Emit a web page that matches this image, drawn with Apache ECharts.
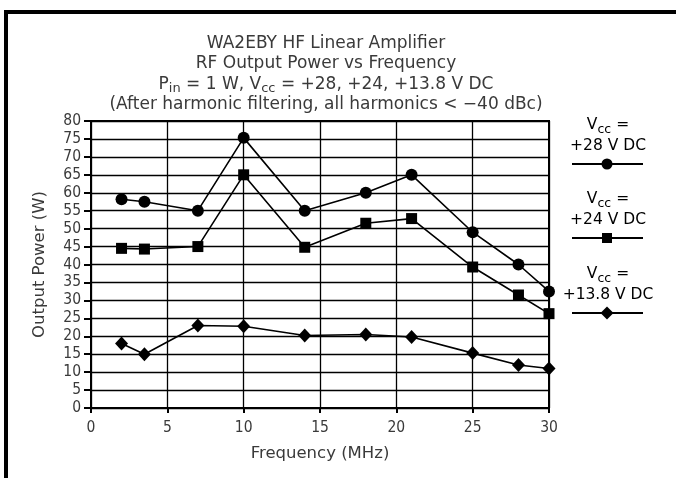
<!DOCTYPE html>
<html>
<head>
<meta charset="utf-8">
<script src="https://cdn.jsdelivr.net/npm/echarts@6/dist/echarts.min.js"></script>
<style>
  html, body { margin: 0; padding: 0; background: #fff; }
  #chart { width: 676px; height: 478px; }
</style>
</head>
<body>
<div id="chart"></div>
<script>
// frequency (MHz)
const freqs = [2, 3.5, 7, 10, 14, 18, 21, 25, 28, 30]
// output power (W) per supply voltage
const vcc28 = [58.2, 57.5, 55, 75.3, 55, 60, 65, 49, 40, 32.5]
const vcc24 = [44.5, 44.3, 45, 65, 44.8, 51.5, 52.8, 39.3, 31.5, 26.3]
const vcc138 = [18, 15, 23, 22.8, 20.2, 20.5, 19.8, 15.3, 12, 11]
const seriesNames = ['+28 V DC', '+24 V DC', '+13.8 V DC']

const font = 'DejaVu Sans'
const tickFont = 'DejaVu Sans Condensed'
const txt = '#3a3a3a'

function pairs(ys) {
  return freqs.map((x, i) => [x, ys[i]])
}

function richStyle(size, sub) {
  return {
    a: { fontFamily: font, fontSize: size, fontWeight: 'normal', color: txt, lineHeight: 20.5 },
    s: { fontFamily: font, fontSize: sub, fontWeight: 'normal', color: txt, lineHeight: 20.5, padding: [9, 0, 0, 0] }
  }
}

// legend keys on the right, drawn by hand
const legendY = [164, 238, 313]
const keyShapes = [
  { type: 'circle', shape: { cx: 607, cy: legendY[0], r: 5.5 } },
  { type: 'rect', shape: { x: 602, y: legendY[1] - 5, width: 10, height: 10 } },
  { type: 'polygon', shape: { points: [[607, legendY[2] - 6.5], [613.5, legendY[2]], [607, legendY[2] + 6.5], [600.5, legendY[2]]] } }
]
const legendGraphics = []
seriesNames.forEach((name, i) => {
  legendGraphics.push({
    type: 'text',
    position: [608, legendY[i] - 49],
    style: {
      text: '{a|V}{s|cc}{a| =}\n{a|' + name + '}',
      rich: richStyle(15.5, 12.5), align: 'center', x: 0
    }
  })
  legendGraphics.push({
    type: 'line', shape: { x1: 572, y1: legendY[i], x2: 643, y2: legendY[i] },
    style: { stroke: '#000', lineWidth: 2 }
  })
  legendGraphics.push(Object.assign({}, keyShapes[i], { style: { fill: '#000' } }))
})

const chart = echarts.init(document.getElementById('chart'))

chart.setOption({
  backgroundColor: '#fff',
  animation: false,
  title: {
    left: 321,
    top: 28,
    textAlign: 'center',
    text: '{a|WA2EBY HF Linear Amplifier}\n{a|RF Output Power vs Frequency}\n{a|P}{s|in}{a| = 1 W, V}{s|cc}{a| = +28, +24, +13.8 V DC}\n{a|(After harmonic filtering, all harmonics < \u221240 dBc)}',
    textStyle: { fontWeight: 'normal', rich: richStyle(17, 13) }
  },
  grid: {
    left: 91, right: 127, top: 121, bottom: 70,
    show: true, borderColor: '#000', borderWidth: 2
  },
  xAxis: {
    type: 'value', min: 0, max: 30, interval: 5,
    name: 'Frequency (MHz)', nameLocation: 'middle', nameGap: 37,
    nameTextStyle: { fontFamily: font, fontSize: 16.5, color: txt },
    axisLine: { lineStyle: { color: '#000', width: 2 } },
    axisTick: { show: true, length: 5, lineStyle: { color: '#000', width: 2 } },
    axisLabel: { fontFamily: tickFont, fontSize: 15.5, color: txt, margin: 12 },
    splitLine: { show: true, lineStyle: { color: '#000', width: 1.3 } }
  },
  yAxis: {
    type: 'value', min: 0, max: 80, interval: 5,
    name: 'Output Power (W)', nameLocation: 'middle', nameGap: 43,
    nameTextStyle: { fontFamily: font, fontSize: 16.5, color: txt },
    axisLine: { show: true, lineStyle: { color: '#000', width: 2 } },
    axisTick: { show: true, length: 7, lineStyle: { color: '#000', width: 2 } },
    axisLabel: { fontFamily: tickFont, fontSize: 15.5, color: txt, margin: 10 },
    splitLine: { show: true, lineStyle: { color: '#000', width: 1.3 } }
  },
  series: [
    { name: seriesNames[0], type: 'line', data: pairs(vcc28), symbol: 'circle', symbolSize: 12 },
    { name: seriesNames[1], type: 'line', data: pairs(vcc24), symbol: 'rect', symbolSize: 11 },
    { name: seriesNames[2], type: 'line', data: pairs(vcc138), symbol: 'diamond', symbolSize: [13, 14] }
  ].map(s => Object.assign(s, {
    itemStyle: { color: '#000' },
    lineStyle: { color: '#000', width: 1.6 },
    showAllSymbol: true
  })),
  graphic: [
    {
      type: 'polyline',
      shape: { points: [[6, 478], [6, 12], [676, 12]] },
      style: { stroke: '#000', lineWidth: 4, fill: null }
    }
  ].concat(legendGraphics)
})
</script>
</body>
</html>
